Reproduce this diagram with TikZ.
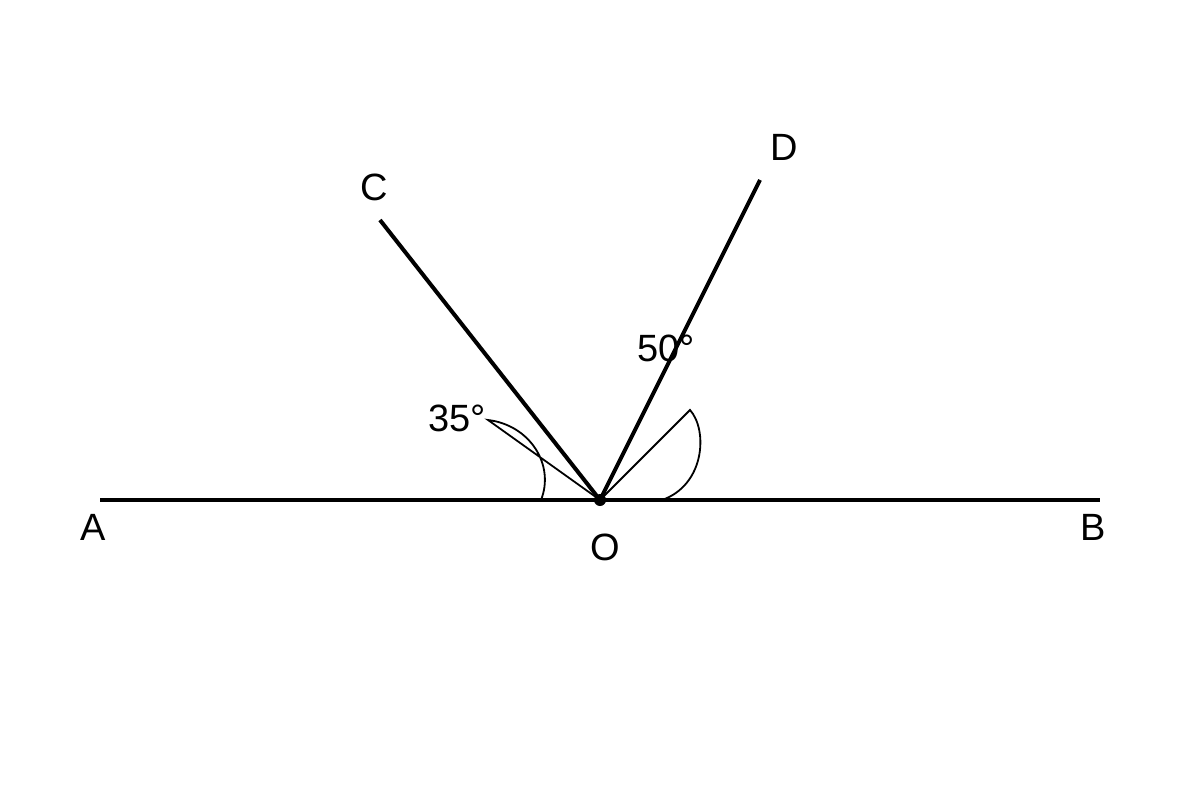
\documentclass[tikz,border=0pt]{standalone}
\usepackage{fontspec}
\setmainfont{Liberation Sans}
\usepackage{tikz}
\usetikzlibrary{positioning,calc}
\tikzstyle{line} = [draw,line width=4pt]
\tikzstyle{anglemark} = [draw,line width=1.8pt]
\tikzstyle{lbl} = [inner sep=0pt,font=\fontsize{38}{42}\selectfont]

\begin{document}
\begin{tikzpicture}[x=1pt,y=-1pt]
                \useasboundingbox (0,0) rectangle (1200,800);
                \coordinate (O) at (600,500);
                \coordinate (A) at (100,500);
                \coordinate (B) at (1100,500);
                \coordinate (C) at (380,220);
                \coordinate (D) at (760,180);
                \coordinate (m1) at (488,420);
                \coordinate (m2) at (541,500);
                \coordinate (m3) at (690,410);
                \coordinate (m4) at (662,500);
                \path [line] (A) -- (B);
                \path [line] (O) -- (C);
                \path [line] (O) -- (D);
                \path [anglemark] (O) -- (m1) .. controls (530,425) and (555,465) .. (m2);
                \path [anglemark] (O) -- (m3) .. controls (708,430) and (705,485) .. (m4);
                \fill (O) circle (6);
                \node[lbl] (lA) at (93,527) {A};
                \node[lbl] (lB) at (1093,527) {B};
                \node[lbl] (lO) at (605,547) {O};
                \node[lbl] (lC) at (374,187) {C};
                \node[lbl] (lD) at (784,147) {D};
                \node[lbl] (a35) at (457,418) {35°};
                \node[lbl] (a50) at (666,348) {50°};
            \end{tikzpicture}
\end{document}
